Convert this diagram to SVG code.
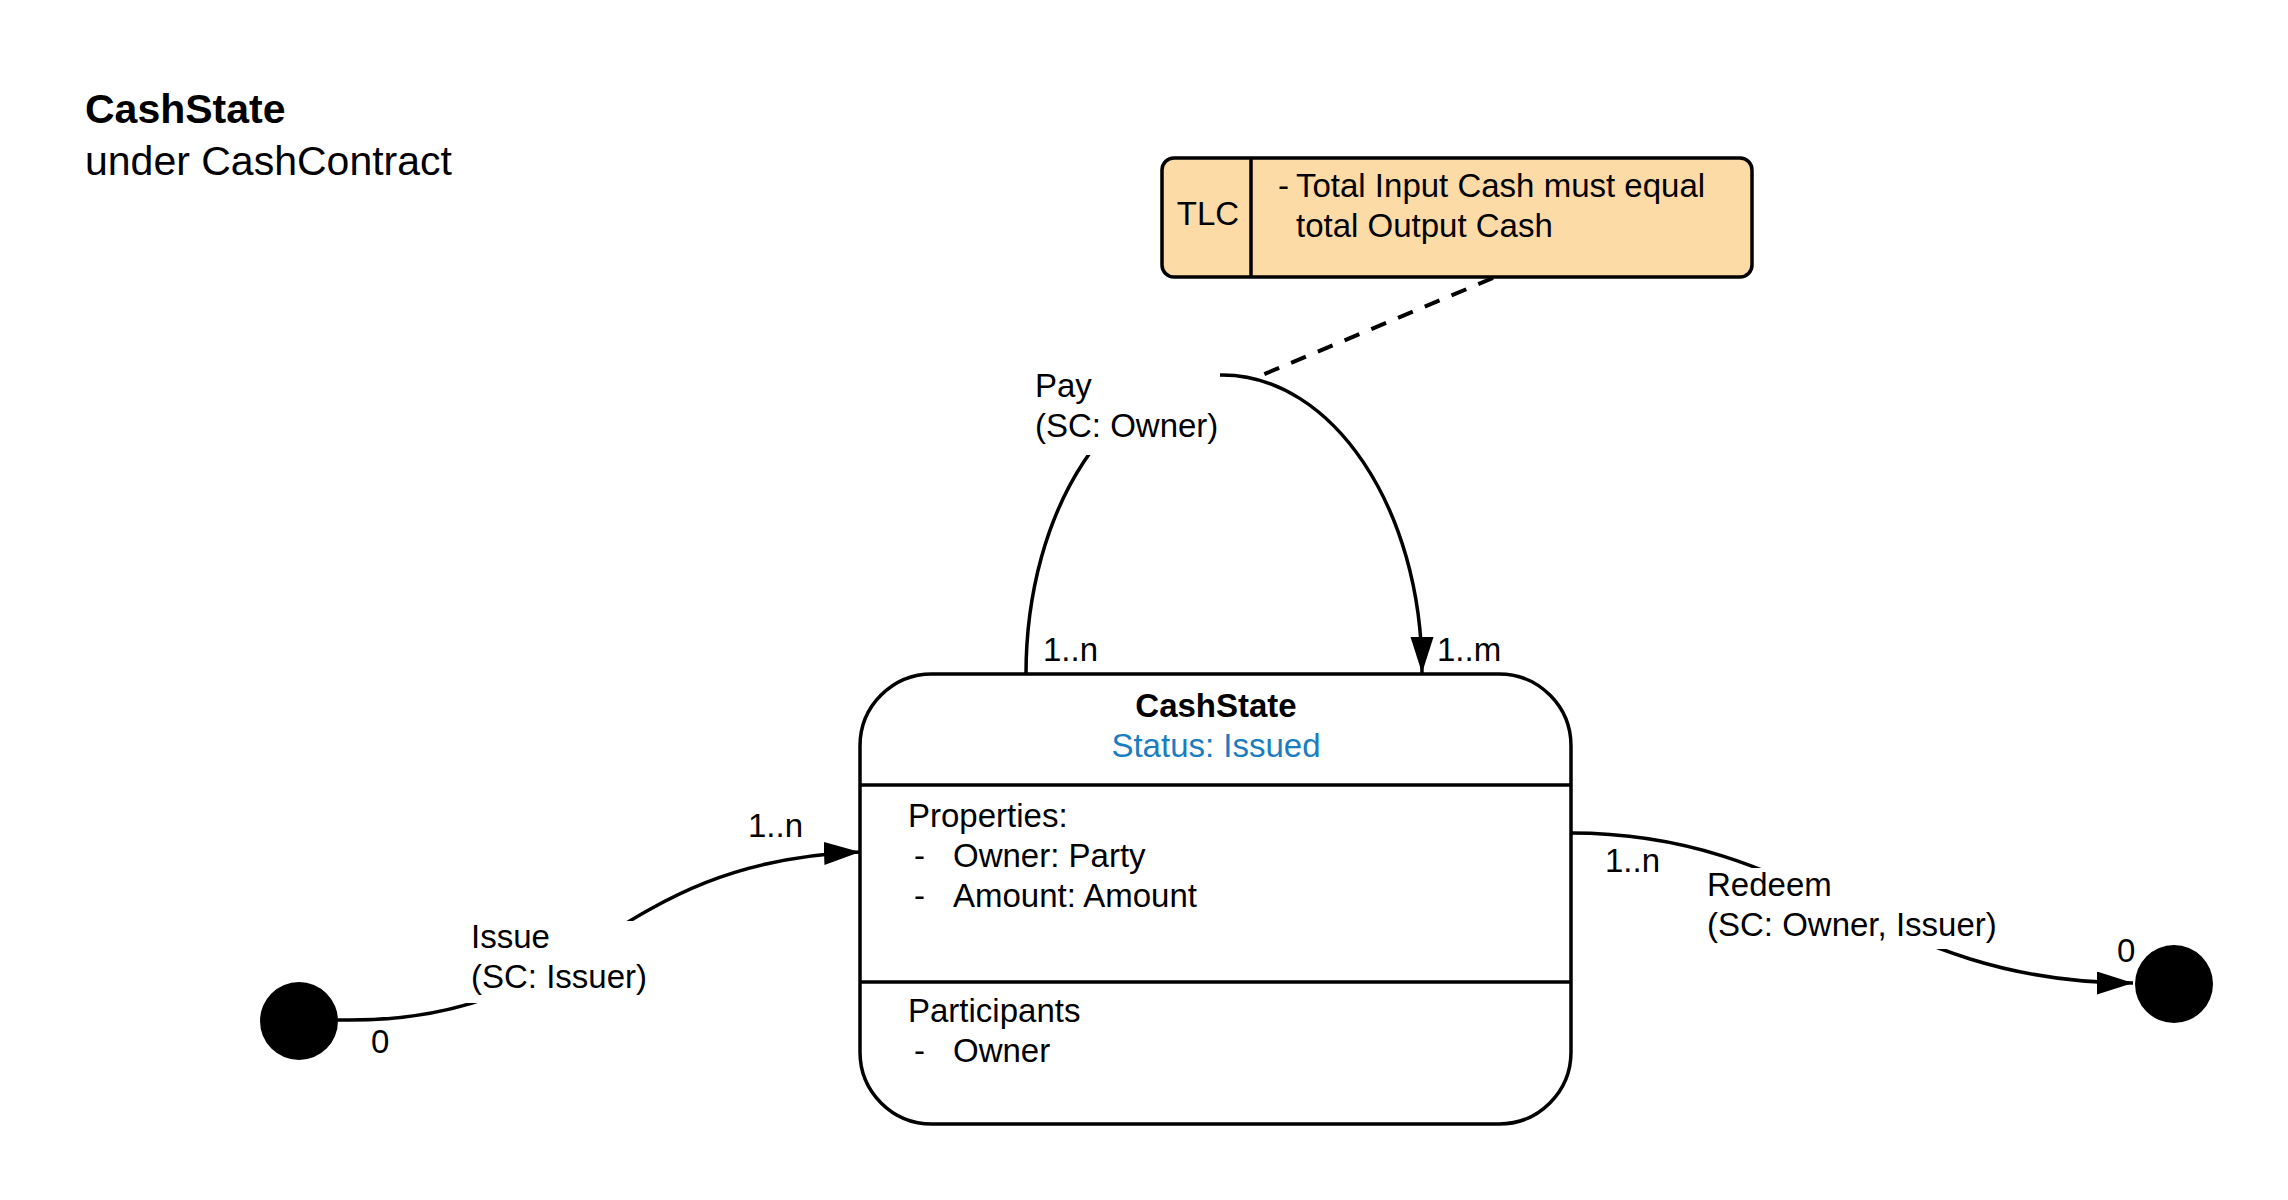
<svg xmlns="http://www.w3.org/2000/svg" width="2288" height="1200" viewBox="0 0 2288 1200">
<style>
text{font-family:"Liberation Sans",Arial,sans-serif;font-size:33px;fill:#000}
.title{font-size:41px}
.b{font-weight:bold}
.blue{fill:#1A7DC0}
.shape{fill:#fff;stroke:#000;stroke-width:3.5}
.line{fill:none;stroke:#000;stroke-width:3.5}
.dash{fill:none;stroke:#000;stroke-width:4;stroke-dasharray:16 13}
.bg{fill:#fff;stroke:none}
</style>
<defs>
<marker id="arrow" markerUnits="userSpaceOnUse" markerWidth="38" markerHeight="24" refX="36" refY="11.5" orient="auto">
<path d="M0,0 L36,11.5 L0,23 z" fill="#000"/>
</marker>
</defs>
<rect width="2288" height="1200" fill="#fff"/>

<g id="title">
<text class="title b" x="85" y="123">CashState</text>
<text class="title" x="85" y="175">under CashContract</text>
</g>

<g id="connectors">
<path class="dash" d="M1493,278 L1255,378"/>
<path class="line" d="M1026,674 C1026,508 1114,375 1222,375 C1332,375 1422,508 1422,673" marker-end="url(#arrow)"/>
<path class="line" d="M338,1020 C590,1025 600,862 860,852" marker-end="url(#arrow)"/>
<path class="line" d="M1571,833 C1810,833 1880,983 2133,983" marker-end="url(#arrow)"/>
<rect class="bg" x="1031" y="371" width="189" height="84"/>
<text x="1035" y="397">Pay</text>
<text x="1035" y="437">(SC: Owner)</text>
<rect class="bg" x="466" y="921" width="184" height="82"/>
<text x="471" y="948">Issue</text>
<text x="471" y="988">(SC: Issuer)</text>
<rect class="bg" x="1701" y="868" width="303" height="81"/>
<text x="1707" y="896">Redeem</text>
<text x="1707" y="936">(SC: Owner, Issuer)</text>
<text x="1043" y="661">1..n</text>
<text x="1437" y="661">1..m</text>
<text x="748" y="837">1..n</text>
<text x="371" y="1053">0</text>
<text x="1605" y="872">1..n</text>
<text x="2117" y="962">0</text>
</g>

<g id="tlc">
<rect x="1162" y="158" width="590" height="119" rx="12" fill="#FDDBA7" stroke="#000" stroke-width="3.5"/>
<line x1="1251" y1="158" x2="1251" y2="277" stroke="#000" stroke-width="3.5"/>
<text x="1208" y="225" text-anchor="middle">TLC</text>
<text x="1278" y="197">-</text>
<text x="1296" y="197">Total Input Cash must equal</text>
<text x="1296" y="237">total Output Cash</text>
</g>

<g id="cashstate">
<rect class="shape" x="860" y="674" width="711" height="450" rx="72"/>
<line x1="860" y1="785" x2="1571" y2="785" stroke="#000" stroke-width="3.5"/>
<line x1="860" y1="982" x2="1571" y2="982" stroke="#000" stroke-width="3.5"/>
<text class="b" x="1216" y="717" text-anchor="middle">CashState</text>
<text class="blue" x="1216" y="757" text-anchor="middle">Status: Issued</text>
<text x="908" y="827">Properties:</text>
<text y="867"><tspan x="914">-</tspan><tspan x="953">Owner: Party</tspan></text>
<text y="907"><tspan x="914">-</tspan><tspan x="953">Amount: Amount</tspan></text>
<text x="908" y="1022">Participants</text>
<text y="1062"><tspan x="914">-</tspan><tspan x="953">Owner</tspan></text>
</g>

<g id="start">
<circle cx="299" cy="1021" r="39" fill="#000"/>
</g>
<g id="end">
<circle cx="2174" cy="984" r="39" fill="#000"/>
</g>
</svg>
